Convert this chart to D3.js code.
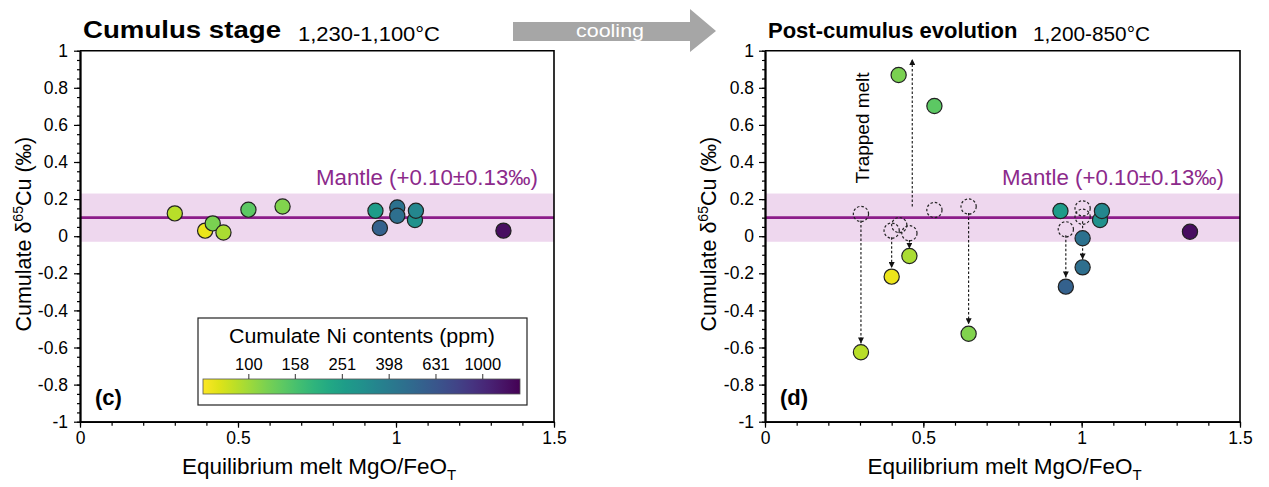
<!DOCTYPE html>
<html><head><meta charset="utf-8">
<script src="https://cdn.jsdelivr.net/npm/d3@7"></script>
<style>body{margin:0;background:#fff} svg{display:block} text{font-family:"Liberation Sans",Arial,Helvetica,sans-serif}</style>
</head><body><svg id="c" width="1269" height="487"></svg>
<script>
// ---------- data ----------
const xTickVals = [0, 0.5, 1, 1.5];
const yTickVals = [1, 0.8, 0.6, 0.4, 0.2, 0, -0.2, -0.4, -0.6, -0.8, -1];
const niTicks = [100, 158, 251, 398, 631, 1000];
const mantleMean = 0.10, mantleErr = 0.13;

// (c) cumulus stage
const cumX  = [0.30, 0.396, 0.42, 0.454, 0.533, 0.641, 0.935, 0.949, 1.004, 1.004, 1.06, 1.063, 1.34];
const cumY  = [0.123, 0.03, 0.069, 0.02, 0.143, 0.16, 0.137, 0.044, 0.155, 0.11, 0.087, 0.137, 0.03];
const cumNi = [90, 70, 120, 95, 140, 115, 261, 560, 450, 470, 300, 340, 1300];

// (d) post-cumulus, measured
const postX  = [0.422, 0.535, 0.303, 0.40, 0.456, 0.643, 0.933, 0.95, 1.003, 1.003, 1.058, 1.064, 1.342];
const postY  = [0.869, 0.702, -0.626, -0.218, -0.107, -0.526, 0.136, -0.272, -0.011, -0.168, 0.087, 0.136, 0.024];
const postNi = [120, 140, 90, 70, 95, 115, 261, 560, 450, 470, 300, 340, 1300];

// (d) former cumulus values (dashed open circles)
const prevX = [0.303, 0.40, 0.424, 0.456, 0.535, 0.643, 0.95, 1.003, 1.003];
const prevY = [0.12, 0.03, 0.06, 0.016, 0.141, 0.16, 0.037, 0.15, 0.105];

// (d) dashed arrows
const arrX    = [0.303, 0.40, 0.456, 0.643, 0.95, 1.003, 0.465];
const arrFrom = [0.085, -0.005, -0.02, 0.125, 0.005, 0.08, 0.16];
const arrTo   = [-0.578, -0.172, -0.068, -0.475, -0.222, -0.125, 0.955];

// ---------- layout ----------
const svg = d3.select("#c");
const FONT = '"Liberation Sans",Arial,Helvetica,sans-serif';
const Y = d3.scaleLinear().domain([-1, 1]).range([421.7, 50.7]);
const XL = d3.scaleLinear().domain([0, 1.5]).range([80, 554]);
const XR = d3.scaleLinear().domain([0, 1.5]).range([765, 1240]);
const niPos = d3.scaleLog().domain([64, 1450]).range([0, 1]);
const niColor = d => d3.interpolateViridis(1 - niPos(d));

const defs = svg.append("defs");
defs.append("marker").attr("id", "ah").attr("viewBox", "0 0 10 10")
  .attr("refX", 10).attr("refY", 5).attr("markerWidth", 6).attr("markerHeight", 6)
  .attr("markerUnits", "userSpaceOnUse").attr("orient", "auto")
  .append("path").attr("d", "M0,0L10,5L0,10z").attr("fill", "#111");

function panel(X, yLabelX, tickPad) {
  const g = svg.append("g");
  g.append("rect").attr("x", X(0)).attr("width", X(1.5) - X(0))
    .attr("y", Y(mantleMean + mantleErr)).attr("height", Y(mantleMean - mantleErr) - Y(mantleMean + mantleErr))
    .attr("fill", "#eed7ee");
  g.append("line").attr("x1", X(0)).attr("x2", X(1.5)).attr("y1", Y(mantleMean)).attr("y2", Y(mantleMean))
    .attr("stroke", "#8c1d8a").attr("stroke-width", 2.6);
  g.append("path").attr("d", `M${X(0)},${Y(1)}H${X(1.5)}V${Y(-1)}`)
    .attr("fill", "none").attr("stroke", "#000").attr("stroke-width", 1.6);
  const yMaj = d3.axisLeft(Y).tickValues(yTickVals).tickSize(6).tickSizeOuter(0).tickPadding(tickPad).tickFormat(d => String(d));
  const yMin = d3.axisLeft(Y).tickValues(d3.range(-20, 21).map(i => i * 0.05)).tickSize(3).tickSizeOuter(0).tickFormat("");
  const xMaj = d3.axisBottom(X).tickValues(xTickVals).tickSize(6).tickSizeOuter(0).tickPadding(4).tickFormat(d => String(d));
  const xMin = d3.axisBottom(X).tickValues(d3.range(0, 16).map(i => i * 0.1)).tickSize(4).tickSizeOuter(0).tickFormat("");
  [yMin, yMaj].forEach(a => g.append("g").attr("transform", `translate(${X(0)},0)`).call(a));
  [xMin, xMaj].forEach(a => g.append("g").attr("transform", `translate(0,${Y(-1)})`).call(a));
  g.selectAll(".domain").attr("stroke", "#000").attr("stroke-width", 1.8);
  g.selectAll(".tick line").attr("stroke", "#000").attr("stroke-width", 1.2);
  g.selectAll(".tick text").attr("font-family", FONT).attr("font-size", 17.5).attr("fill", "#000");
  g.append("text").attr("x", X(1.5) - 16).attr("y", 185).attr("text-anchor", "end")
    .attr("font-size", 21.5).attr("fill", "#8c2a8b").attr("textLength", 222).attr("lengthAdjust", "spacingAndGlyphs")
    .text("Mantle (+0.10±0.13‰)");
  const yl = g.append("text").attr("transform", `translate(${yLabelX},${(Y(1) + Y(-1)) / 2 - 2}) rotate(-90)`)
    .attr("text-anchor", "middle").attr("font-size", 21.5).attr("fill", "#000");
  yl.append("tspan").text("Cumulate δ");
  yl.append("tspan").attr("font-size", 14).attr("dy", -8).text("65");
  yl.append("tspan").attr("dy", 8).text("Cu (‰)");
  const xl = g.append("text").attr("x", (X(0) + X(1.5)) / 2 + 2).attr("y", 474)
    .attr("text-anchor", "middle").attr("font-size", 22.5).attr("fill", "#000");
  xl.append("tspan").text("Equilibrium melt MgO/FeO");
  xl.append("tspan").attr("font-size", 15).attr("dy", 6).text("T");
  return g;
}

// ---------- panel (c) ----------
const gc = panel(XL, 31, 6);
gc.append("text").attr("x", 95).attr("y", 405).attr("font-size", 22).attr("font-weight", "bold").text("(c)");
gc.selectAll("circle.pt").data(d3.range(cumX.length)).join("circle")
  .attr("cx", i => XL(cumX[i])).attr("cy", i => Y(cumY[i])).attr("r", 7.6)
  .attr("fill", i => niColor(cumNi[i])).attr("stroke", "#222").attr("stroke-width", 1.2);

// colour bar legend
const lg = svg.append("g");
lg.append("rect").attr("x", 198).attr("y", 318).attr("width", 329).attr("height", 87)
  .attr("fill", "#fff").attr("stroke", "#222").attr("stroke-width", 1.2);
lg.append("text").attr("x", 362).attr("y", 343).attr("text-anchor", "middle").attr("font-size", 20.5)
  .attr("textLength", 266).attr("lengthAdjust", "spacingAndGlyphs").text("Cumulate Ni contents (ppm)");
const cbX0 = 203, cbX1 = 520;
const CB = d3.scaleLog().domain([64, 1450]).range([cbX0, cbX1]);
const grad = defs.append("linearGradient").attr("id", "vg").attr("x1", "0%").attr("x2", "100%");
d3.range(0, 1.0001, 0.05).forEach(t => grad.append("stop").attr("offset", t).attr("stop-color", d3.interpolateViridis(1 - t)));
lg.append("rect").attr("x", cbX0).attr("y", 379).attr("width", cbX1 - cbX0).attr("height", 15)
  .attr("fill", "url(#vg)").attr("stroke", "#555").attr("stroke-width", 0.8);
const cbAxis = d3.axisTop(CB).tickValues(niTicks).tickSize(5).tickSizeOuter(0).tickPadding(4).tickFormat(d => String(d));
const cba = lg.append("g").attr("transform", "translate(0,379)").call(cbAxis);
cba.select(".domain").remove();
cba.selectAll(".tick line").attr("stroke", "#333");
cba.selectAll(".tick text").attr("font-family", FONT).attr("font-size", 16.5).attr("fill", "#000");

// ---------- panel (d) ----------
const gd = panel(XR, 716, 5);
gd.append("text").attr("x", 780).attr("y", 405).attr("font-size", 22).attr("font-weight", "bold").text("(d)");
gd.selectAll("circle.prev").data(d3.range(prevX.length)).join("circle")
  .attr("cx", i => XR(prevX[i])).attr("cy", i => Y(prevY[i])).attr("r", 7.6)
  .attr("fill", "none").attr("stroke", "#222").attr("stroke-width", 1.2).attr("stroke-dasharray", "2.5,2");
gd.selectAll("line.arr").data(d3.range(arrX.length)).join("line")
  .attr("x1", i => XR(arrX[i])).attr("x2", i => XR(arrX[i]))
  .attr("y1", i => Y(arrFrom[i])).attr("y2", i => Y(arrTo[i]))
  .attr("stroke", "#111").attr("stroke-width", 1.1).attr("stroke-dasharray", "2.5,2")
  .attr("marker-end", "url(#ah)");
gd.selectAll("circle.pt").data(d3.range(postX.length)).join("circle")
  .attr("cx", i => XR(postX[i])).attr("cy", i => Y(postY[i])).attr("r", 7.6)
  .attr("fill", i => niColor(postNi[i])).attr("stroke", "#222").attr("stroke-width", 1.2);
gd.append("text").attr("transform", `translate(869,128) rotate(-90)`).attr("text-anchor", "middle")
  .attr("font-size", 18).attr("textLength", 111).attr("lengthAdjust", "spacingAndGlyphs").text("Trapped melt");

// ---------- titles & arrow ----------
svg.append("text").attr("x", 83).attr("y", 38).attr("font-size", 24.5).attr("font-weight", "bold")
  .attr("textLength", 198).attr("lengthAdjust", "spacingAndGlyphs").text("Cumulus stage");
svg.append("text").attr("x", 298).attr("y", 41).attr("font-size", 20)
  .attr("textLength", 142).attr("lengthAdjust", "spacingAndGlyphs").text("1,230-1,100°C");
svg.append("text").attr("x", 768).attr("y", 38).attr("font-size", 22).attr("font-weight", "bold")
  .text("Post-cumulus evolution");
svg.append("text").attr("x", 1033).attr("y", 41).attr("font-size", 20)
  .attr("textLength", 117).attr("lengthAdjust", "spacingAndGlyphs").text("1,200-850°C");
svg.append("path").attr("d", "M513,22H690V9L716,31L690,52V41H513Z").attr("fill", "#a6a6a6");
svg.append("text").attr("x", 610).attr("y", 37).attr("text-anchor", "middle").attr("font-size", 19)
  .attr("fill", "#fff").attr("textLength", 68).attr("lengthAdjust", "spacingAndGlyphs").text("cooling");
</script></body></html>
